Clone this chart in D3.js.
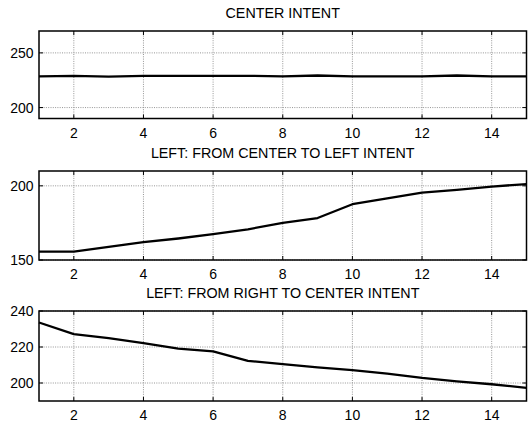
<!DOCTYPE html>
<html>
<head>
<meta charset="utf-8">
<script src="https://cdn.jsdelivr.net/npm/d3@7"></script>
<style>
  html, body { margin: 0; padding: 0; background: #fff; }
  svg { display: block; font-family: "Liberation Sans", Arial, sans-serif; }
</style>
</head>
<body>
<svg id="chart" width="528" height="427"></svg>
<script>
// Sample index shared by all three panels
const steps = [1, 2, 3, 4, 5, 6, 7, 8, 9, 10, 11, 12, 13, 14, 15];

// Panel titles
const titles = [
  "CENTER INTENT",
  "LEFT: FROM CENTER TO LEFT INTENT",
  "LEFT: FROM RIGHT TO CENTER INTENT"
];

// Series values, one per panel
const centerIntent = [228.5, 229, 228.3, 229, 229, 229, 229, 228.5, 229.3, 228.5, 228.5, 228.5, 229.3, 228.5, 228.5];
const centerToLeft = [155.6, 155.6, 158.8, 162, 164.5, 167.5, 170.7, 175, 178.3, 187.6, 191.5, 195.4, 197.3, 199.5, 201.2];
const rightToCenter = [233.6, 227.2, 224.9, 222.2, 219.1, 217.6, 212.3, 210.5, 208.7, 207.2, 205.2, 202.8, 200.9, 199.3, 197.3];

// Axis ranges and ticks
const yDomains = [[190, 270], [150, 210], [190, 240]];
const yTicks = [[200, 250], [150, 200], [200, 220, 240]];
const xTicks = [2, 4, 6, 8, 10, 12, 14];

const series = [centerIntent, centerToLeft, rightToCenter];

const svg = d3.select("#chart");
const left = 39, right = 526.5;
const panelBox = [[31, 118.5], [171, 260], [311, 401]];
const tickLen = 4;

const x = d3.scaleLinear().domain([1, 15]).range([left, right]);

series.forEach((vals, i) => {
  const [top, bottom] = panelBox[i];
  const y = d3.scaleLinear().domain(yDomains[i]).range([bottom, top]);
  const g = svg.append("g");

  // dotted grid
  g.selectAll(".gx").data(xTicks).enter().append("line")
    .attr("x1", d => x(d)).attr("x2", d => x(d))
    .attr("y1", top).attr("y2", bottom)
    .attr("stroke", "#8a8a8a").attr("stroke-width", 0.9)
    .attr("stroke-dasharray", "1,1.3");
  g.selectAll(".gy").data(yTicks[i]).enter().append("line")
    .attr("x1", left).attr("x2", right)
    .attr("y1", d => y(d)).attr("y2", d => y(d))
    .attr("stroke", "#8a8a8a").attr("stroke-width", 0.9)
    .attr("stroke-dasharray", "1,1.3");

  // inward tick marks on all four sides
  xTicks.forEach(t => {
    g.append("line").attr("x1", x(t)).attr("x2", x(t))
      .attr("y1", bottom).attr("y2", bottom - tickLen)
      .attr("stroke", "#000").attr("stroke-width", 1);
    g.append("line").attr("x1", x(t)).attr("x2", x(t))
      .attr("y1", top).attr("y2", top + tickLen)
      .attr("stroke", "#000").attr("stroke-width", 1);
  });
  yTicks[i].forEach(t => {
    g.append("line").attr("x1", left).attr("x2", left + tickLen)
      .attr("y1", y(t)).attr("y2", y(t))
      .attr("stroke", "#000").attr("stroke-width", 1);
    g.append("line").attr("x1", right).attr("x2", right - tickLen)
      .attr("y1", y(t)).attr("y2", y(t))
      .attr("stroke", "#000").attr("stroke-width", 1);
  });

  // data line
  const line = d3.line().x((d, j) => x(steps[j])).y(d => y(d));
  g.append("path").datum(vals)
    .attr("d", line)
    .attr("fill", "none")
    .attr("stroke", "#000")
    .attr("stroke-width", 2.3)
    .attr("stroke-linejoin", "round");

  // frame
  g.append("rect")
    .attr("x", left).attr("y", top)
    .attr("width", right - left).attr("height", bottom - top)
    .attr("fill", "none").attr("stroke", "#000").attr("stroke-width", 1.5);

  // tick labels
  g.selectAll(".xl").data(xTicks).enter().append("text")
    .attr("x", d => x(d)).attr("y", bottom + 14)
    .attr("text-anchor", "middle").attr("dominant-baseline", "central")
    .attr("font-size", 14).attr("fill", "#000")
    .text(d => d);
  g.selectAll(".yl").data(yTicks[i]).enter().append("text")
    .attr("x", 33.5).attr("y", d => y(d))
    .attr("text-anchor", "end").attr("dominant-baseline", "central")
    .attr("font-size", 14).attr("fill", "#000")
    .text(d => d);

  // title
  g.append("text")
    .attr("x", (left + right) / 2).attr("y", top - 18)
    .attr("text-anchor", "middle").attr("dominant-baseline", "central")
    .attr("font-size", 14.3).attr("fill", "#000")
    .text(titles[i]);
});
</script>
</body>
</html>
